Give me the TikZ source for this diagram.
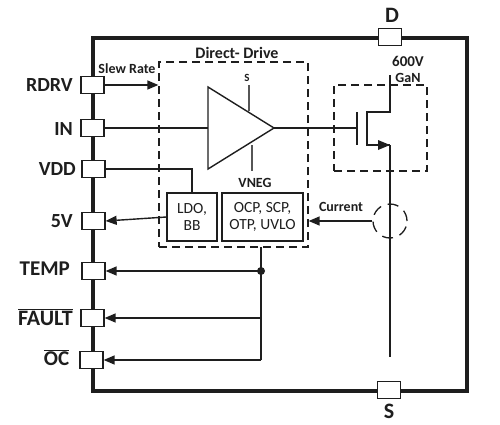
\documentclass[tikz,border=0pt]{standalone}
\usepackage{fontspec}
\setmainfont{Carlito}
\usetikzlibrary{arrows.meta,calc}
\definecolor{ink}{HTML}{1E1E1E}
\tikzset{
  pin/.style={draw=ink,fill=white,line width=1.3pt,minimum width=23pt,minimum height=16.5pt,inner sep=0pt},
  pinlabel/.style={font=\bfseries\fontsize{20}{20}\selectfont,text=ink,inner sep=0pt,anchor=east},
  smalllabel/.style={font=\bfseries\fontsize{14}{16}\selectfont,text=ink,inner sep=0pt},
  dashbox/.style={draw=ink,line width=1.3pt,dash pattern=on 8pt off 5pt,inner sep=0pt},
  block/.style={draw=ink,line width=1.3pt,inner sep=0pt,align=center,font=\fontsize{15.5}{17}\selectfont,text=ink},
  wire/.style={draw=ink,line width=1.4pt},
  tip/.style={wire,-{Triangle[length=11pt,width=9pt]}},
  frame/.style={draw=ink,line width=3.5pt},
}
\begin{document}
\begin{tikzpicture}[x=1pt,y=-1pt]
\useasboundingbox (0,0) rectangle (500,424);
\fill[white] (0,0) rectangle (500,424);
% frame
\node[frame,minimum width=374pt,minimum height=353pt,inner sep=0pt] (chip) at (280,214.5) {};
% dashed groups
\node[dashbox,minimum width=149pt,minimum height=185pt] (dd) at (233.5,154.5) {};
\node[dashbox,minimum width=93pt,minimum height=86pt] (gan) at (380.5,128) {};
% pins
\node[pin] (rdrv) at (92.5,85) {};
\node[pin] (in) at (92.5,128) {};
\node[pin] (vdd) at (93.5,169) {};
\node[pin] (fivev) at (93.5,221) {};
\node[pin] (temp) at (93.5,271) {};
\node[pin] (fault) at (92.5,318) {};
\node[pin] (oc) at (91.5,360) {};
\node[pin] (d) at (390,37) {};
\node[pin] (s) at (389,390) {};
% pin labels
\node[pinlabel] (lrdrv) at (73,85) {RDRV};
\node[pinlabel] (lin) at (73,129) {IN};
\node[pinlabel] (lvdd) at (76,169) {VDD};
\node[pinlabel] (lfive) at (73,221) {5V};
\node[pinlabel,font=\bfseries\fontsize{21}{21}\selectfont] (ltemp) at (70,269) {TEMP};
\node[pinlabel,font=\bfseries\fontsize{22}{22}\selectfont] (lfault) at (73,317) {$\overline{\hbox{FAULT}}$};
\node[pinlabel,font=\bfseries\fontsize{21}{21}\selectfont] (loc) at (69.5,358) {$\overline{\hbox{OC}}$};
\node[pinlabel,anchor=center,font=\bfseries\fontsize{22}{22}\selectfont] (ld) at (392,15) {D};
\node[pinlabel,anchor=center,font=\bfseries\fontsize{22}{22}\selectfont] (ls) at (389,411) {S};
% small labels
\node[smalllabel] (slew) at (127,69) {Slew Rate};
\node[smalllabel,font=\bfseries\fontsize{16}{18}\selectfont] (ddt) at (237,53) {Direct- Drive};
\node[smalllabel,font=\bfseries\fontsize{11}{12}\selectfont] (stxt) at (247,78) {S};
\node[smalllabel] (vneg) at (255,183) {VNEG};
\node[smalllabel,font=\bfseries\fontsize{15}{16}\selectfont] (v600) at (408,61) {600V};
\node[smalllabel] (gant) at (408,78) {GaN};
\node[smalllabel] (cur) at (341,207) {Current};
% blocks
\node[block,minimum width=50pt,minimum height=48pt] (ldo) at (192,217) {LDO,\\BB};
\node[block,minimum width=81pt,minimum height=48pt] (ocp) at (262.5,217) {OCP, SCP,\\OTP, UVLO};
% comparator
\coordinate (ta) at (208,87);
\coordinate (tb) at (208,169);
\coordinate (tc) at (274,128);
\draw[wire,line join=miter] (ta) -- (tc) -- (tb) -- cycle;
\coordinate (ss) at (249,85);
\coordinate (se) at (249,111);
\coordinate (vs) at (252,145);
\coordinate (ve) at (252,171);
\draw[draw=ink!75,line width=1.1pt] (ss) -- (se);
\draw[draw=ink!75,line width=1.1pt] (vs) -- (ve);
% wires
\draw[tip] (rdrv.east) -- (dd.west |- rdrv.east);
\draw[wire] (in.east) -- (in.east -| ta);
\draw[wire] (vdd.east) -| (ldo.north);
\draw[tip] (ldo.west) -- (fivev.east);
% GaN
\coordinate (gb1) at (357,112);
\coordinate (gb2) at (357,145);
\coordinate (ch1) at (367,112);
\coordinate (ch2) at (367,145);
\coordinate (dr) at (390,112);
\coordinate (dt) at (390,75);
\coordinate (sr) at (390,145);
\coordinate (se2) at (390,357);
\draw[wire] (tc) -- (tc -| gb1);
\draw[wire] (gb1) -- (gb2);
\draw[wire] (dt) -- (dr) -- (ch1) -- (ch2) -- (sr);
\draw[wire] (sr) -- (se2);
\fill[ink] (378,140) -- (390,145) -- (378,150) -- cycle;
% current sensor
\node[draw=ink,line width=1.3pt,dash pattern=on 11pt off 7pt,circle,minimum size=34pt,inner sep=0pt] (cs) at (390,221) {};
\draw[tip] (cs.west) -- (dd.east |- cs.west);
% bus
\coordinate (bt) at (261,247);
\coordinate (j1) at (261,271);
\coordinate (j2) at (261,318);
\coordinate (j3) at (261,360);
\draw[wire] (bt) -- (j3);
\fill[ink] (j1) circle (4pt);
\draw[tip] (j1) -- (temp.east);
\draw[tip] (j2) -- (fault.east);
\draw[tip] (j3) -- (oc.east);
\end{tikzpicture}
\end{document}
